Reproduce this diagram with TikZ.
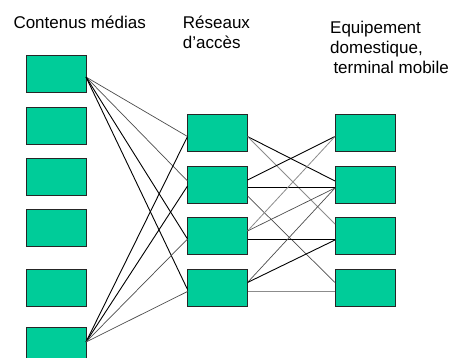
\documentclass[tikz,border=0pt]{standalone}
\usepackage{fontspec}
\setmainfont{Liberation Sans}
\begin{document}
\begin{tikzpicture}[x=1pt,y=-1pt,
  box/.style={draw=black!85,line width=0.9pt,fill=boxgreen,minimum width=60pt,minimum height=37pt,inner sep=0pt,outer sep=0pt},
  lbl/.style={anchor=base west,inner sep=0pt,font=\fontsize{17}{20}\selectfont},
  dark/.style={draw=black,line width=0.9pt},
  mid/.style={draw=black!70,line width=0.7pt},
  light/.style={draw=black!45,line width=0.8pt}]
\definecolor{boxgreen}{RGB}{0,204,153}
\useasboundingbox (0,0) rectangle (452,358);
\clip (0,0) rectangle (452,358);
% labels
\node[lbl] (t1) at (13.3,29) {Contenus médias};
\node[lbl] (t2) at (182.7,29) {Réseaux};
\node[lbl] (t3) at (182.7,49) {d’accès};
\node[lbl] (t4) at (330,33.3) {Equipement};
\node[lbl] (t5) at (330,53.3) {domestique,};
\node[lbl] (t6) at (333.3,73.3) {terminal mobile};
% boxes
\node[box] (L1) at (56,73.5) {};
\node[box] (L2) at (56,125.5) {};
\node[box] (L3) at (56,177) {};
\node[box] (L4) at (56,228) {};
\node[box] (L5) at (56,287.5) {};
\node[box] (L6) at (56,345.5) {};
\node[box] (M1) at (217.5,132.5) {};
\node[box] (M2) at (217.5,184.5) {};
\node[box] (M3) at (217.5,235.5) {};
\node[box] (M4) at (217.5,287.5) {};
\node[box] (R1) at (365,132.5) {};
\node[box] (R2) at (365,184.5) {};
\node[box] (R3) at (365,235.5) {};
\node[box] (R4) at (365,287.5) {};
% left to middle
\draw[mid]   ([yshift=-3.5pt]L1.east) -- ([yshift=-4pt]M1.west);
\draw[mid]   ([yshift=-3.5pt]L1.east) -- ([yshift=3.5pt]M2.west);
\draw[dark]  ([yshift=-3.5pt]L1.east) -- ([yshift=-3.5pt]M3.west);
\draw[dark]  ([yshift=-3.5pt]L1.east) -- ([yshift=-2pt]M4.west);
\draw[dark]  ([yshift=3.5pt]L6.east) -- ([yshift=-4pt]M1.west);
\draw[dark]  ([yshift=3.5pt]L6.east) -- ([yshift=-1.5pt]M2.west);
\draw[mid]   ([yshift=3.5pt]L6.east) -- ([yshift=-3.5pt]M3.west);
\draw[mid]   ([yshift=3.5pt]L6.east) -- ([yshift=-4pt]M4.west);
% middle to right
\draw[dark]  ([yshift=-4pt]M1.east) -- ([yshift=3.5pt]R2.west);
\draw[light] ([yshift=-4pt]M1.east) -- ([yshift=11.5pt]R3.west);
\draw[dark]  ([yshift=4.5pt]M2.east) -- ([yshift=-4pt]R1.west);
\draw[dark]  ([yshift=-3.2pt]M2.east) -- ([yshift=-3.2pt]R2.west);
\draw[mid]   ([yshift=-11.5pt]M2.east) -- ([yshift=5pt]R4.west);
\draw[light] ([yshift=4.5pt]M3.east) -- ([yshift=-4pt]R1.west);
\draw[mid]   ([yshift=4.5pt]M3.east) -- ([yshift=-3.5pt]R2.west);
\draw[dark]  ([yshift=-3.5pt]M3.east) -- ([yshift=-3.5pt]R3.west);
\draw[mid]   ([yshift=5pt]M4.east) -- ([yshift=-3.5pt]R2.west);
\draw[dark]  ([yshift=5pt]M4.east) -- ([yshift=-4.5pt]R3.west);
\draw[light] ([yshift=-3.5pt]M4.east) -- ([yshift=-3.5pt]R4.west);
\end{tikzpicture}
\end{document}
